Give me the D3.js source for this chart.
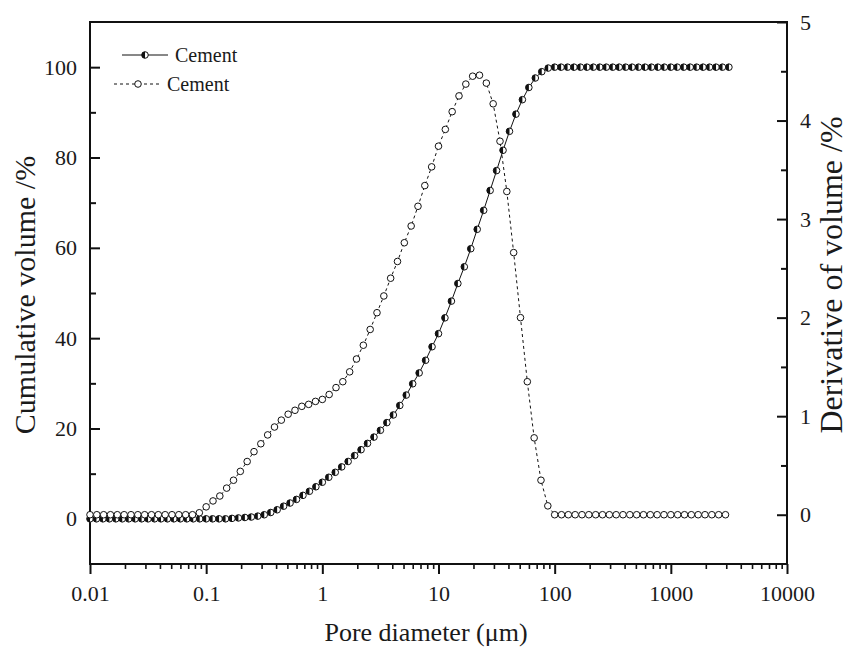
<!DOCTYPE html>
<html>
<head>
<meta charset="utf-8">
<script src="https://cdn.jsdelivr.net/npm/d3@7"></script>
<style>
  body { margin: 0; background: #fff; }
  svg text { font-family: "Liberation Serif", "Times New Roman", serif; fill: #1a1a1a; }
</style>
</head>
<body>
<div id="chart"></div>
<script>
// pore diameters (um) for the cumulative curve
var cumDiam = [
  0.01, 0.01136, 0.01292, 0.01468, 0.01668, 0.01896, 0.02154, 0.02448, 0.02783, 0.03162, 0.03594, 0.04084, 0.04642, 0.05275, 0.05995, 0.06813, 0.07743, 0.08799,
  0.1, 0.1136, 0.1292, 0.1468, 0.1668, 0.1896, 0.2154, 0.2448, 0.2783, 0.3162, 0.3594, 0.4084, 0.4642, 0.5275, 0.5995, 0.6813, 0.7743, 0.8799,
  1, 1.136, 1.292, 1.468, 1.668, 1.896, 2.154, 2.448, 2.783, 3.162, 3.594, 4.084, 4.642, 5.275, 5.995, 6.813, 7.743, 8.799,
  10, 11.36, 12.92, 14.68, 16.68, 18.96, 21.54, 24.48, 27.83, 31.62, 35.94, 40.84, 46.42, 52.75, 59.95, 68.13, 77.43, 87.99,
  100, 113.6, 129.2, 146.8, 166.8, 189.6, 215.4, 244.8, 278.3, 316.2, 359.4, 408.4, 464.2, 527.5, 599.5, 681.3, 774.3, 879.9,
  1000, 1136, 1292, 1468, 1668, 1896, 2154, 2448, 2783, 3162
];
// cumulative volume (%)
var cumVolume = [
  0, 0, 0, 0, 0, 0, 0, 0, 0, 0, 0, 0, 0, 0, 0, 0, 0, 0,
  0, 0, 0, 0, 0.1, 0.2, 0.3, 0.4, 0.6, 0.9, 1.4, 2.0, 2.8, 3.5, 4.3, 5.2, 6.1, 7.1,
  8.1, 9.2, 10.3, 11.5, 12.7, 14.0, 15.3, 16.7, 18.1, 19.6, 21.3, 23.0, 25.1, 27.4, 29.9, 32.3, 35.1, 38.1,
  41.0, 44.5, 48.2, 52.1, 55.8, 59.8, 64.1, 68.3, 72.7, 77.1, 81.6, 85.8, 89.6, 92.8, 95.5, 97.6, 99.0, 99.8,
  100, 100, 100, 100, 100, 100, 100, 100, 100, 100, 100, 100, 100, 100, 100, 100, 100, 100,
  100, 100, 100, 100, 100, 100, 100, 100, 100, 100
];

// pore diameters (um) for the derivative curve
var derDiam = [
  0.01, 0.01145, 0.01311, 0.01501, 0.01719, 0.01968, 0.02254, 0.02581, 0.02955, 0.03384, 0.03874, 0.04436, 0.05079, 0.05816, 0.06659, 0.07625, 0.08731,
  0.1, 0.1145, 0.1311, 0.1501, 0.1719, 0.1968, 0.2254, 0.2581, 0.2955, 0.3384, 0.3874, 0.4436, 0.5079, 0.5816, 0.6659, 0.7625, 0.8731,
  1, 1.145, 1.311, 1.501, 1.719, 1.968, 2.254, 2.581, 2.955, 3.384, 3.874, 4.436, 5.079, 5.816, 6.659, 7.625, 8.731,
  10, 11.45, 13.11, 15.01, 17.19, 19.68, 22.54, 25.81, 29.55, 33.84, 38.74, 44.36, 50.79, 58.16, 66.59, 76.25, 87.31,
  100, 114.5, 131.1, 150.1, 171.9, 196.8, 225.4, 258.1, 295.5, 338.4, 387.4, 443.6, 507.9, 581.6, 665.9, 762.5, 873.1,
  1000, 1145, 1311, 1501, 1719, 1968, 2254, 2581, 2955
];
// derivative of volume (%)
var derVolume = [
  0, 0, 0, 0, 0, 0, 0, 0, 0, 0, 0, 0, 0, 0, 0, 0, 0.02,
  0.08, 0.14, 0.19, 0.27, 0.35, 0.44, 0.54, 0.64, 0.72, 0.81, 0.89, 0.96, 1.02, 1.06, 1.10, 1.12, 1.15,
  1.17, 1.22, 1.29, 1.35, 1.45, 1.58, 1.72, 1.88, 2.05, 2.22, 2.40, 2.57, 2.76, 2.93, 3.13, 3.34, 3.53,
  3.74, 3.91, 4.09, 4.25, 4.37, 4.45, 4.46, 4.38, 4.17, 3.79, 3.28, 2.66, 2.00, 1.35, 0.78, 0.35, 0.09,
  0, 0, 0, 0, 0, 0, 0, 0, 0, 0, 0, 0, 0, 0, 0, 0, 0,
  0, 0, 0, 0, 0, 0, 0, 0, 0
];

var xMajor = [0.01, 0.1, 1, 10, 100, 1000, 10000];
var xMajorLabels = ["0.01", "0.1", "1", "10", "100", "1000", "10000"];
var yLeftMajor = [0, 20, 40, 60, 80, 100];
var yLeftMinor = [10, 30, 50, 70, 90];
var yRightMajor = [0, 1, 2, 3, 4, 5];
var yRightMinor = [0.5, 1.5, 2.5, 3.5, 4.5];
var seriesNames = ["Cement", "Cement"];

var width = 851, height = 648;
var plotLeft = 90, plotRight = 787, plotTop = 22, plotBottom = 564;

var svg = d3.select("#chart").append("svg")
    .attr("width", width)
    .attr("height", height);

var x = d3.scaleLog().domain([0.01, 10000]).range([plotLeft, plotRight]);
var yL = d3.scaleLinear().domain([-10, 110]).range([plotBottom, plotTop]);
var yR = d3.scaleLinear().domain([-0.5, 5]).range([plotBottom, plotTop]);

// minor x ticks 2..9 per decade
var xMinor = [];
xMajor.slice(0, -1).forEach(function (d) {
    for (var i = 2; i <= 9; i++) xMinor.push(d * i);
});

function styleAxis(g, w) {
    g.select(".domain").remove();
    g.selectAll("line").attr("stroke-width", w).attr("stroke", "#111");
    g.selectAll("text").attr("font-size", 22).attr("font-family", "Liberation Serif").attr("fill", "#1a1a1a");
}

// x axis (ticks point down)
svg.append("g")
    .attr("transform", "translate(0," + plotBottom + ")")
    .call(d3.axisBottom(x).tickValues(xMinor).tickSize(5).tickFormat(""))
    .call(function (g) { styleAxis(g, 1.6); });

svg.append("g")
    .attr("transform", "translate(0," + plotBottom + ")")
    .call(d3.axisBottom(x).tickValues(xMajor).tickSize(10).tickPadding(11)
        .tickFormat(function (d, i) { return xMajorLabels[i]; }))
    .call(function (g) { styleAxis(g, 2); });

// left axis (ticks point inward)
svg.append("g")
    .attr("transform", "translate(" + plotLeft + ",0)")
    .call(d3.axisLeft(yL).tickValues(yLeftMinor).tickSize(-6).tickFormat(""))
    .call(function (g) { styleAxis(g, 2); });

svg.append("g")
    .attr("transform", "translate(" + plotLeft + ",0)")
    .call(d3.axisLeft(yL).tickValues(yLeftMajor).tickSize(-10).tickPadding(13))
    .call(function (g) { styleAxis(g, 2); });

// right axis (ticks point inward)
svg.append("g")
    .attr("transform", "translate(" + plotRight + ",0)")
    .call(d3.axisRight(yR).tickValues(yRightMinor).tickSize(-6).tickFormat(""))
    .call(function (g) { styleAxis(g, 2); });

svg.append("g")
    .attr("transform", "translate(" + plotRight + ",0)")
    .call(d3.axisRight(yR).tickValues(yRightMajor).tickSize(-10).tickPadding(13).tickFormat(d3.format("d")))
    .call(function (g) { styleAxis(g, 2); });

// frame
svg.append("rect")
    .attr("x", plotLeft).attr("y", plotTop)
    .attr("width", plotRight - plotLeft).attr("height", plotBottom - plotTop)
    .attr("fill", "none").attr("stroke", "#111").attr("stroke-width", 2);

// axis titles
svg.append("text")
    .attr("x", 426).attr("y", 641)
    .attr("text-anchor", "middle").attr("font-size", 26)
    .text("Pore diameter (μm)");

svg.append("text")
    .attr("transform", "translate(35,295) rotate(-90)")
    .attr("text-anchor", "middle").attr("font-size", 30)
    .text("Cumulative volume /%");

svg.append("text")
    .attr("transform", "translate(842,275) rotate(-90)")
    .attr("text-anchor", "middle").attr("font-size", 32)
    .text("Derivative of volume /%");

var cumData = cumDiam.map(function (d, i) { return { d: d, v: cumVolume[i] }; });
var derData = derDiam.map(function (d, i) { return { d: d, v: derVolume[i] }; });

var r = 3.3;

// half filled marker
function halfMarker(g, cx, cy) {
    g.append("circle").attr("cx", cx).attr("cy", cy).attr("r", r)
        .attr("fill", "#fff").attr("stroke", "#111").attr("stroke-width", 1);
    g.append("path")
        .attr("d", "M" + cx + "," + (cy - r) + " A" + r + "," + r + " 0 0 0 " + cx + "," + (cy + r) + " Z")
        .attr("fill", "#111");
}

function openMarker(g, cx, cy) {
    g.append("circle").attr("cx", cx).attr("cy", cy).attr("r", r)
        .attr("fill", "#fff").attr("stroke", "#111").attr("stroke-width", 1);
}

// cumulative series
svg.append("path")
    .datum(cumData)
    .attr("fill", "none").attr("stroke", "#111").attr("stroke-width", 1)
    .attr("d", d3.line().x(function (d) { return x(d.d); }).y(function (d) { return yL(d.v); }));

var cumG = svg.append("g");
cumData.forEach(function (d) { halfMarker(cumG, x(d.d), yL(d.v)); });

// derivative series
svg.append("path")
    .datum(derData)
    .attr("fill", "none").attr("stroke", "#111").attr("stroke-width", 1)
    .attr("stroke-dasharray", "3,3")
    .attr("d", d3.line().x(function (d) { return x(d.d); }).y(function (d) { return yR(d.v); }));

var derG = svg.append("g");
derData.forEach(function (d) { openMarker(derG, x(d.d), yR(d.v)); });

// legend
var lg = svg.append("g");
lg.append("line").attr("x1", 122).attr("x2", 168).attr("y1", 55).attr("y2", 55)
    .attr("stroke", "#111").attr("stroke-width", 1);
halfMarker(lg, 145, 55);
lg.append("text").attr("x", 175).attr("y", 62).attr("font-size", 20).text(seriesNames[0]);

lg.append("line").attr("x1", 114).attr("x2", 162).attr("y1", 84).attr("y2", 84)
    .attr("stroke", "#111").attr("stroke-width", 1).attr("stroke-dasharray", "3,3");
openMarker(lg, 138, 84);
lg.append("text").attr("x", 167).attr("y", 91).attr("font-size", 20).text(seriesNames[1]);
</script>
</body>
</html>
